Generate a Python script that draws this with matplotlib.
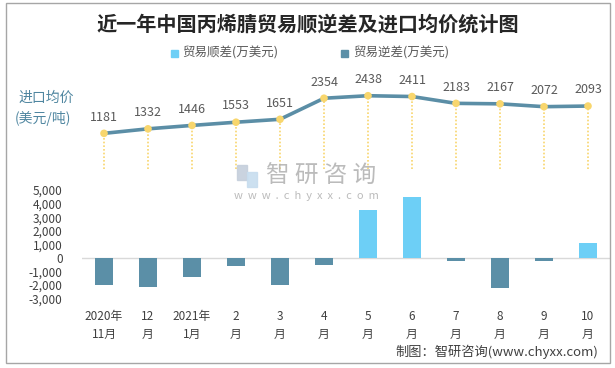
import matplotlib.pyplot as plt
import numpy as np
from matplotlib.patches import Rectangle

plt.rcParams['font.family'] = ['Noto Sans CJK SC', 'DejaVu Sans']

months = ["2020年\n11月", "12\n月", "2021年\n1月", "2\n月", "3\n月", "4\n月",
          "5\n月", "6\n月", "7\n月", "8\n月", "9\n月", "10\n月"]
trade_balance = [-2020, -2160, -1430, -620, -2020, -490,
                 3550, 4460, -250, -2230, -250, 1070]
import_price = [1181, 1332, 1446, 1553, 1651, 2354,
                2438, 2411, 2183, 2167, 2072, 2093]

W, H = 615, 368
fig = plt.figure(figsize=(W / 100, H / 100), dpi=100)

def box(x0, y0, x1, y1):
    # pixel box (top-left origin) -> figure fraction rect
    return [x0 / W, 1 - y1 / H, (x1 - x0) / W, (y1 - y0) / H]

def px(x, y):
    return x / W, 1 - y / H

x = np.arange(len(months))
pos_color = '#6dcff6'
neg_color = '#5b8fa7'
line_color = '#5b8ea6'
dot_color = '#f8d66d'
text_color = '#595959'

# bar part
axb = fig.add_axes(box(82, 190, 610, 298.7))
vals = np.array(trade_balance)
colors = [pos_color if v > 0 else neg_color for v in vals]
axb.bar(x, vals, width=0.4, color=colors, zorder=3)
axb.axhline(0, color='#d9d9d9', lw=1, zorder=2)
axb.set_xlim(-0.5, len(months) - 0.5)
axb.set_ylim(-3000, 5000)
axb.set_yticks(range(-3000, 5001, 1000))
axb.set_yticklabels([f"{v:,}" for v in range(-3000, 5001, 1000)])
axb.set_xticks(x)
axb.set_xticklabels(months, linespacing=1.5)
axb.tick_params(axis='both', length=0, colors='#404040', labelsize=8.5)
axb.tick_params(axis='x', pad=8)
axb.tick_params(axis='y', pad=14)
for s in axb.spines.values():
    s.set_visible(False)
axb.patch.set_alpha(0)

# line part
axl = fig.add_axes(box(82, 78.9, 610, 168.7))
axl.set_xlim(-0.5, len(months) - 0.5)
axl.set_ylim(0, 3000)
axl.vlines(x, 0, import_price, colors=dot_color, linestyles=(0, (1, 1.2)), lw=1.2, zorder=1)
axl.plot(x, import_price, color=line_color, lw=2.6, zorder=2)
axl.scatter(x, import_price, s=30, color=dot_color, zorder=3, edgecolors='none')
for xi, v in zip(x, import_price):
    axl.annotate(str(v), (xi, v), xytext=(0, 7), textcoords='offset points',
                 ha='center', va='bottom', fontsize=9, color=text_color)
axl.axis('off')

# title, legend, labels
fig.text(*px(308, 24), "近一年中国丙烯腈贸易顺逆差及进口均价统计图",
         ha='center', va='center', fontsize=14.5, fontweight='bold', color='#262626')
fig.patches.append(Rectangle(px(171, 57), 7 / W, 7 / H,
                             transform=fig.transFigure, color=pos_color))
fig.text(*px(182, 53), "贸易顺差(万美元)", ha='left', va='center',
         fontsize=9, color=text_color)
fig.patches.append(Rectangle(px(341, 57), 7 / W, 7 / H,
                             transform=fig.transFigure, color=neg_color))
fig.text(*px(353, 53), "贸易逆差(万美元)", ha='left', va='center',
         fontsize=9, color=text_color)
fig.text(*px(18, 98), "进口均价", ha='left', va='center',
         fontsize=10, color='#4f86a0')
fig.text(*px(15, 118), "(美元/吨)", ha='left', va='center',
         fontsize=10, color='#4f86a0')

# watermark
fig.text(*px(321, 176), "智 研 咨 询", ha='center', va='center',
         fontsize=17, color='#b0b0b0', alpha=0.85)
fig.text(*px(306, 196), "w  w  w  .  c  h  y  x  x  .  c  o  m", ha='center', va='center',
         fontsize=8, color='#b0b0b0', alpha=0.85)
fig.patches.append(Rectangle(px(237, 180), 10 / W, 15 / H,
                             transform=fig.transFigure, color='#c5cfdc', alpha=0.9))
fig.patches.append(Rectangle(px(247, 187), 10 / W, 15 / H,
                             transform=fig.transFigure, color='#c7ddef', alpha=0.9))

fig.text(*px(598, 352), "制图：智研咨询(www.chyxx.com)", ha='right', va='center',
         fontsize=9.5, color='#404040')

fig.patches.append(Rectangle(px(6, 363), 604 / W, 360 / H,
                             transform=fig.transFigure, fill=False,
                             edgecolor='#a6a6a6', lw=1))

fig.savefig("out.png", dpi=100)
